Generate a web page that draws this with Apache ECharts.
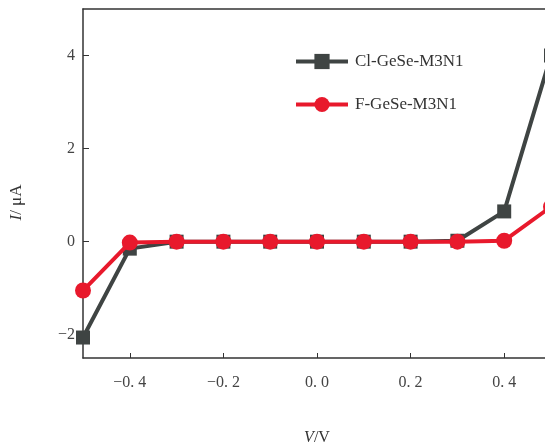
<!DOCTYPE html>
<html>
<head>
<meta charset="utf-8">
<script src="https://cdn.jsdelivr.net/npm/echarts@6/dist/echarts.min.js"></script>
<style>
  html, body { margin: 0; padding: 0; background: #fff; }
  #main { width: 545px; height: 448px; }
</style>
</head>
<body>
<div id="main"></div>
<script>
// 数据
const voltages = [-0.5, -0.4, -0.3, -0.2, -0.1, 0.0, 0.1, 0.2, 0.3, 0.4, 0.5];
const clCurrent = [-2.06, -0.15, 0, 0, 0, 0, 0, 0, 0.02, 0.65, 4.0];
const fCurrent = [-1.05, -0.02, 0, 0, 0, 0, 0, 0, 0, 0.02, 0.75];
const xTicks = [-0.4, -0.2, 0, 0.2, 0.4];
const yTicks = [-2, 0, 2, 4];
const seriesNames = ['Cl-GeSe-M3N1', 'F-GeSe-M3N1'];

const font = '"Liberation Serif", "DejaVu Serif", serif';
const axisColor = '#333';

function fmtX(v) {
  const s = Math.abs(v).toFixed(1).replace('.', '. ');
  return v < 0 ? '\u2212' + s : s;
}

const myChart = echarts.init(document.getElementById('main'));
const option = {
  animation: false,
  grid: { left: 83, right: -6, top: 9, bottom: 90, outerBoundsMode: 'none' },
  legend: {
    orient: 'vertical',
    left: 289,
    top: 48,
    itemWidth: 52,
    itemHeight: 19,
    itemGap: 26,
    lineStyle: { width: 4 },
    textStyle: { fontFamily: font, fontSize: 17, color: '#333', padding: [0, 0, 0, 2] },
    data: seriesNames
  },
  xAxis: [
    {
      type: 'value',
      min: -0.5,
      max: 0.5,
      splitLine: { show: false },
      axisLine: { onZero: false, lineStyle: { color: axisColor, width: 1.5 } },
      axisTick: { inside: true, length: 5, customValues: xTicks, lineStyle: { color: axisColor } },
      axisLabel: { customValues: xTicks, formatter: fmtX, margin: 17, fontFamily: font, fontSize: 16, color: '#444' },
      name: '{i|V}/V',
      nameLocation: 'middle',
      nameGap: 72,
      nameTextStyle: {
        fontFamily: font, fontSize: 16, color: '#333',
        rich: { i: { fontStyle: 'italic', fontFamily: font, fontSize: 16, color: '#333' } }
      }
    },
    {
      type: 'value',
      position: 'top',
      min: -0.5,
      max: 0.5,
      splitLine: { show: false },
      axisLine: { show: true, onZero: false, lineStyle: { color: axisColor, width: 1.5 } },
      axisTick: { show: false },
      axisLabel: { show: false }
    }
  ],
  yAxis: [
    {
      type: 'value',
      min: -2.5,
      max: 5,
      splitLine: { show: false },
      axisLine: { show: true, onZero: false, lineStyle: { color: axisColor, width: 1.5 } },
      axisTick: { show: true, inside: true, length: 6, customValues: yTicks, lineStyle: { color: axisColor } },
      axisLabel: {
        customValues: yTicks,
        formatter: v => (v < 0 ? '\u2212' + Math.abs(v) : String(v)),
        margin: 8, fontFamily: font, fontSize: 16, color: '#444'
      },
      name: '{i|I}/ \u03bcA',
      nameLocation: 'middle',
      nameRotate: 90,
      nameGap: 58,
      nameTextStyle: {
        fontFamily: font, fontSize: 17, color: '#333', padding: [0, 0, 0, -38],
        rich: { i: { fontStyle: 'italic', fontFamily: font, fontSize: 17, color: '#333' } }
      }
    },
    {
      type: 'value',
      position: 'right',
      min: -2.5,
      max: 5,
      splitLine: { show: false },
      axisLine: { show: true, onZero: false, lineStyle: { color: axisColor, width: 1.5 } },
      axisTick: { show: false },
      axisLabel: { show: false }
    }
  ],
  series: [
    {
      name: seriesNames[0],
      type: 'line',
      data: voltages.map((v, i) => [v, clCurrent[i]]),
      symbol: 'rect',
      symbolSize: 14,
      color: '#3f4443',
      lineStyle: { width: 4 },
      z: 2
    },
    {
      name: seriesNames[1],
      type: 'line',
      data: voltages.map((v, i) => [v, fCurrent[i]]),
      symbol: 'circle',
      symbolSize: 16,
      color: '#e8192c',
      lineStyle: { width: 4 },
      z: 3
    }
  ]
};
myChart.setOption(option);
</script>
</body>
</html>
